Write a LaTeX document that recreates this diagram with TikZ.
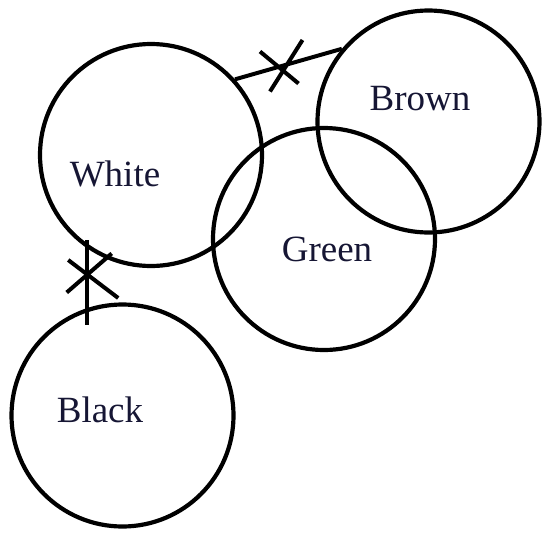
\documentclass[tikz,border=0pt]{standalone}
\usepackage{fontspec}
\setmainfont{Liberation Serif}
\definecolor{labelink}{RGB}{22,22,52}
\begin{document}
\begin{tikzpicture}[x=1pt,y=-1pt,
  ring/.style={circle,draw=black,line width=4.2pt,minimum size=222pt,inner sep=0pt},
  lab/.style={font=\fontsize{37}{37}\selectfont,text=labelink,inner sep=0pt},
  link/.style={line width=4pt,draw=black},
  cross/.style={line width=4pt,draw=black}]
\useasboundingbox (0,0) rectangle (544,533);
\node[ring] (white) at (151,155) {};
\node[ring] (brown) at (428.5,121.5) {};
\node[ring] (green) at (324,239) {};
\node[ring] (black) at (122.5,415.5) {};
\node[lab] (twhite) at (115,174) {White};
\node[lab] (tbrown) at (420,99) {Brown};
\node[lab] (tgreen) at (327,249) {Green};
\node[lab] (tblack) at (100,410) {Black};
% White -- Brown link with cross
\draw[link] (white.42) -- (brown.140.5);
\coordinate (xa) at (283.5,66.5);
\draw[cross] ([shift={(-23.5,-15)}]xa) -- ([shift={(15,17)}]xa);
\draw[cross] ([shift={(19,-26.5)}]xa) -- ([shift={(-13.5,25)}]xa);
% White -- Black link with cross
\coordinate (wb1) at (86.7,240);
\coordinate (wb2) at (86.7,325);
\draw[link] (wb1) -- (wb2);
\coordinate (xb) at (86.7,273.5);
\draw[cross] ([shift={(-18.5,-13.5)}]xb) -- ([shift={(31.5,24.5)}]xb);
\draw[cross] ([shift={(-20,19)}]xb) -- ([shift={(25,-20)}]xb);
\end{tikzpicture}
\end{document}
